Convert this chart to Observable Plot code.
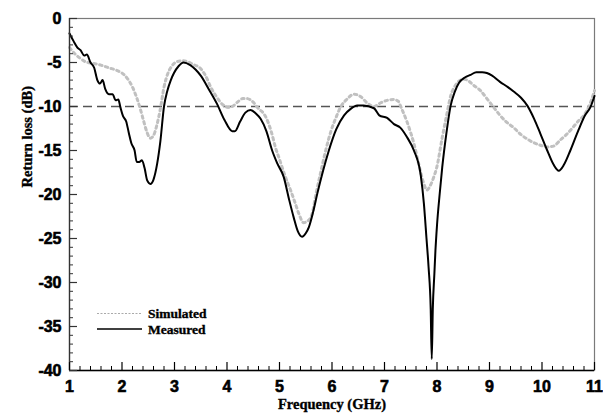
<!DOCTYPE html>
<html>
<head>
<meta charset="utf-8">
<script src="https://cdn.jsdelivr.net/npm/d3@7"></script>
<script src="https://cdn.jsdelivr.net/npm/@observablehq/plot@0.6"></script>
<style>
  html, body { margin: 0; padding: 0; background: white; }
  #chart { position: relative; width: 603px; height: 415px; }
</style>
</head>
<body>
<div id="chart"></div>
<script>
// Measured return loss
const measFreq = [1.00,1.08,1.15,1.21,1.28,1.33,1.40,1.47,1.53,1.58,1.63,1.68,1.75,1.82,1.88,1.93,1.97,2.02,2.08,2.13,2.18,2.24,2.28,2.33,2.38,2.43,2.48,2.54,2.60,2.67,2.73,2.80,2.86,2.93,2.99,3.08,3.17,3.30,3.40,3.50,3.65,3.81,3.95,4.10,4.15,4.25,4.35,4.45,4.55,4.64,4.75,4.86,4.96,5.08,5.18,5.27,5.35,5.43,5.50,5.56,5.64,5.72,5.83,5.94,6.08,6.23,6.35,6.48,6.60,6.80,6.90,7.05,7.18,7.30,7.43,7.56,7.69,7.75,7.80,7.84,7.88,7.90,7.92,7.95,7.97,8.00,8.05,8.10,8.18,8.26,8.34,8.42,8.53,8.64,8.75,8.86,8.95,9.05,9.20,9.35,9.46,9.60,9.72,9.85,9.97,10.10,10.22,10.32,10.42,10.54,10.70,10.82,10.92,11.00];
const measDb = [-1.7,-2.6,-3.3,-3.6,-4.2,-4.1,-5.0,-5.6,-7.0,-7.4,-7.0,-8.0,-8.6,-8.6,-9.3,-9.2,-10.1,-11.1,-11.7,-13.0,-14.2,-15.0,-16.3,-16.3,-16.1,-17.0,-18.4,-18.8,-18.3,-16.5,-14.0,-10.0,-8.3,-7.0,-6.2,-5.4,-5.0,-5.3,-5.8,-6.5,-8.0,-9.7,-11.5,-12.8,-12.8,-11.7,-10.7,-10.4,-10.8,-11.4,-12.8,-15.0,-16.5,-18.0,-20.5,-22.6,-24.2,-24.8,-24.4,-23.7,-22.0,-19.9,-17.3,-15.0,-12.6,-11.0,-10.3,-9.9,-9.9,-10.2,-11.0,-11.3,-12.0,-12.4,-13.5,-15.0,-17.8,-21.0,-25.0,-28.3,-33.0,-38.7,-33.0,-29.0,-26.4,-23.5,-20.0,-16.9,-13.0,-9.9,-8.3,-7.3,-6.7,-6.4,-6.1,-6.1,-6.2,-6.5,-7.2,-7.8,-8.3,-9.0,-9.9,-11.4,-13.1,-15.0,-16.6,-17.3,-16.6,-15.0,-12.6,-11.0,-10.1,-8.8];

// Simulated return loss
const simFreq = [1.00,1.10,1.20,1.30,1.45,1.60,1.75,1.90,2.00,2.10,2.20,2.28,2.35,2.41,2.48,2.54,2.60,2.66,2.73,2.80,2.87,2.95,3.05,3.15,3.25,3.35,3.50,3.60,3.69,3.80,3.92,4.02,4.10,4.20,4.30,4.38,4.48,4.61,4.70,4.77,4.85,4.92,5.00,5.10,5.21,5.30,5.37,5.46,5.54,5.62,5.70,5.78,5.88,5.98,6.08,6.16,6.28,6.42,6.55,6.67,6.80,6.92,7.05,7.18,7.26,7.33,7.42,7.50,7.56,7.65,7.74,7.81,7.87,7.94,8.00,8.10,8.19,8.26,8.35,8.45,8.52,8.60,8.70,8.83,8.95,9.08,9.20,9.33,9.46,9.60,9.72,9.84,9.97,10.10,10.22,10.35,10.48,10.60,10.70,10.80,10.92,11.00];
const simDb = [-3.3,-4.0,-4.5,-4.9,-5.1,-5.3,-5.6,-5.9,-6.2,-6.8,-7.8,-9.0,-10.3,-11.6,-13.0,-13.6,-13.3,-12.2,-10.3,-7.8,-6.3,-5.4,-4.9,-4.8,-4.9,-5.2,-5.7,-6.6,-7.8,-8.9,-9.8,-10.1,-10.0,-9.5,-9.1,-9.1,-9.4,-10.3,-10.8,-11.6,-13.0,-14.6,-16.0,-17.8,-19.5,-21.0,-22.2,-23.2,-23.0,-22.2,-19.8,-17.6,-15.0,-12.8,-11.2,-10.1,-9.2,-8.6,-8.9,-9.6,-10.0,-9.6,-9.3,-9.2,-9.4,-10.3,-11.6,-13.0,-14.2,-16.5,-18.6,-19.5,-19.0,-18.0,-16.8,-13.5,-10.8,-8.8,-7.6,-7.0,-6.9,-7.1,-7.6,-8.2,-9.1,-10.1,-11.0,-11.8,-12.4,-13.2,-13.7,-14.1,-14.4,-14.6,-14.5,-13.8,-13.1,-12.3,-11.6,-11.0,-9.6,-8.2];

// Ticks
const xMajor = [1,2,3,4,5,6,7,8,9,10,11];
const xMinor = d3.range(1, 11.001, 0.2).map(v => +v.toFixed(1)).filter(v => !xMajor.includes(v));
const yMajor = [0,-5,-10,-15,-20,-25,-30,-35,-40];
const yMinor = d3.range(-40, 0.001, 1).filter(v => !yMajor.includes(v));
const threshold = [-10];

const seriesNames = ["Simulated", "Measured"];
const xLabel = "Frequency (GHz)";
const yLabel = "Return loss (dB)";

const meas = measFreq.map((f, i) => ({f, db: measDb[i]}));
const sim = simFreq.map((f, i) => ({f, db: simDb[i]}));

const W = 603, H = 415, mL = 69, mR = 9, mT = 18, mB = 45;
const fw = W - mL - mR, fh = H - mT - mB;

const serif = "'Liberation Serif', 'Times New Roman', serif";
const sans = "'Liberation Sans', Arial, sans-serif";

const chart = Plot.plot({
  width: W, height: H,
  marginLeft: mL, marginRight: mR, marginTop: mT, marginBottom: mB,
  x: {domain: [1, 11]},
  y: {domain: [-40, 0]},
  style: {background: "white", fontFamily: sans, fontSize: "16px", color: "black"},
  marks: [
    Plot.frame({stroke: "#7a7a7a", strokeWidth: 1.2}),
    Plot.ruleY(threshold, {stroke: "#555", strokeWidth: 1.3, strokeDasharray: "9,5"}),
    Plot.line(sim, {x: "f", y: "db", stroke: "#c0c0c0", strokeWidth: 3, strokeDasharray: "2.5,3.5", curve: "monotone-x"}),
    Plot.line(meas, {x: "f", y: "db", stroke: "black", strokeWidth: 2, curve: "monotone-x"}),
    Plot.ruleX([1], {stroke: "#333", strokeWidth: 1.3}),
    Plot.ruleY([-40], {stroke: "black", strokeWidth: 1.6}),
    Plot.tickX(xMinor, {x: d => d, insetTop: fh - 4, stroke: "black", strokeWidth: 1}),
    Plot.tickX(xMajor, {x: d => d, insetTop: fh - 8, stroke: "black", strokeWidth: 1.2}),
    Plot.tickY(yMinor, {y: d => d, insetRight: fw - 4, stroke: "#333", strokeWidth: 1}),
    Plot.tickY(yMajor, {y: d => d, insetRight: fw - 8, stroke: "#333", strokeWidth: 1.2}),
    Plot.axisX(xMajor, {tickSize: 0, tickPadding: 10, tickFormat: d => String(d), label: null, fontSize: 16}),
    Plot.axisY(yMajor, {tickSize: 0, tickPadding: 8, tickFormat: d => String(d), label: null, fontSize: 16}),
    Plot.text([xLabel], {frameAnchor: "bottom", dy: 33.5, lineAnchor: "middle", fontFamily: serif, fontSize: 14.5}),
    Plot.text([yLabel], {frameAnchor: "left", dx: -42, dy: -7, rotate: -90, lineAnchor: "middle", fontFamily: serif, fontSize: 14.5})
  ]
});

// Legend inside the frame (pixel layout)
const svg = d3.select(chart);
const leg = svg.append("g").attr("font-family", serif).attr("font-size", 13.5).attr("text-anchor", "start");
const legendStyles = [
  {stroke: "#aaa", width: 1.2, dash: "2,1.5"},
  {stroke: "black", width: 1.6, dash: null}
];
seriesNames.forEach((name, i) => {
  const y = 313.5 + i * 15.5;
  const ln = leg.append("line").attr("x1", 97).attr("x2", 142).attr("y1", y).attr("y2", y)
    .attr("stroke", legendStyles[i].stroke).attr("stroke-width", legendStyles[i].width);
  if (legendStyles[i].dash) ln.attr("stroke-dasharray", legendStyles[i].dash);
  leg.append("text").attr("x", 148).attr("y", y + 4.5).attr("fill", "black").attr("text-anchor", "start").text(name);
});

// All text in the reference is bold and heavy
svg.selectAll("text").attr("font-weight", "bold").style("font-weight", "bold")
  .style("stroke", "black").style("stroke-width", "0.35px").style("paint-order", "stroke");
svg.selectAll("g").filter(function() { const a = this.getAttribute("aria-label"); return a && a.includes("tick label"); })
  .selectAll("text").style("stroke-width", "0.6px");

document.getElementById("chart").appendChild(chart);
</script>
</body>
</html>
